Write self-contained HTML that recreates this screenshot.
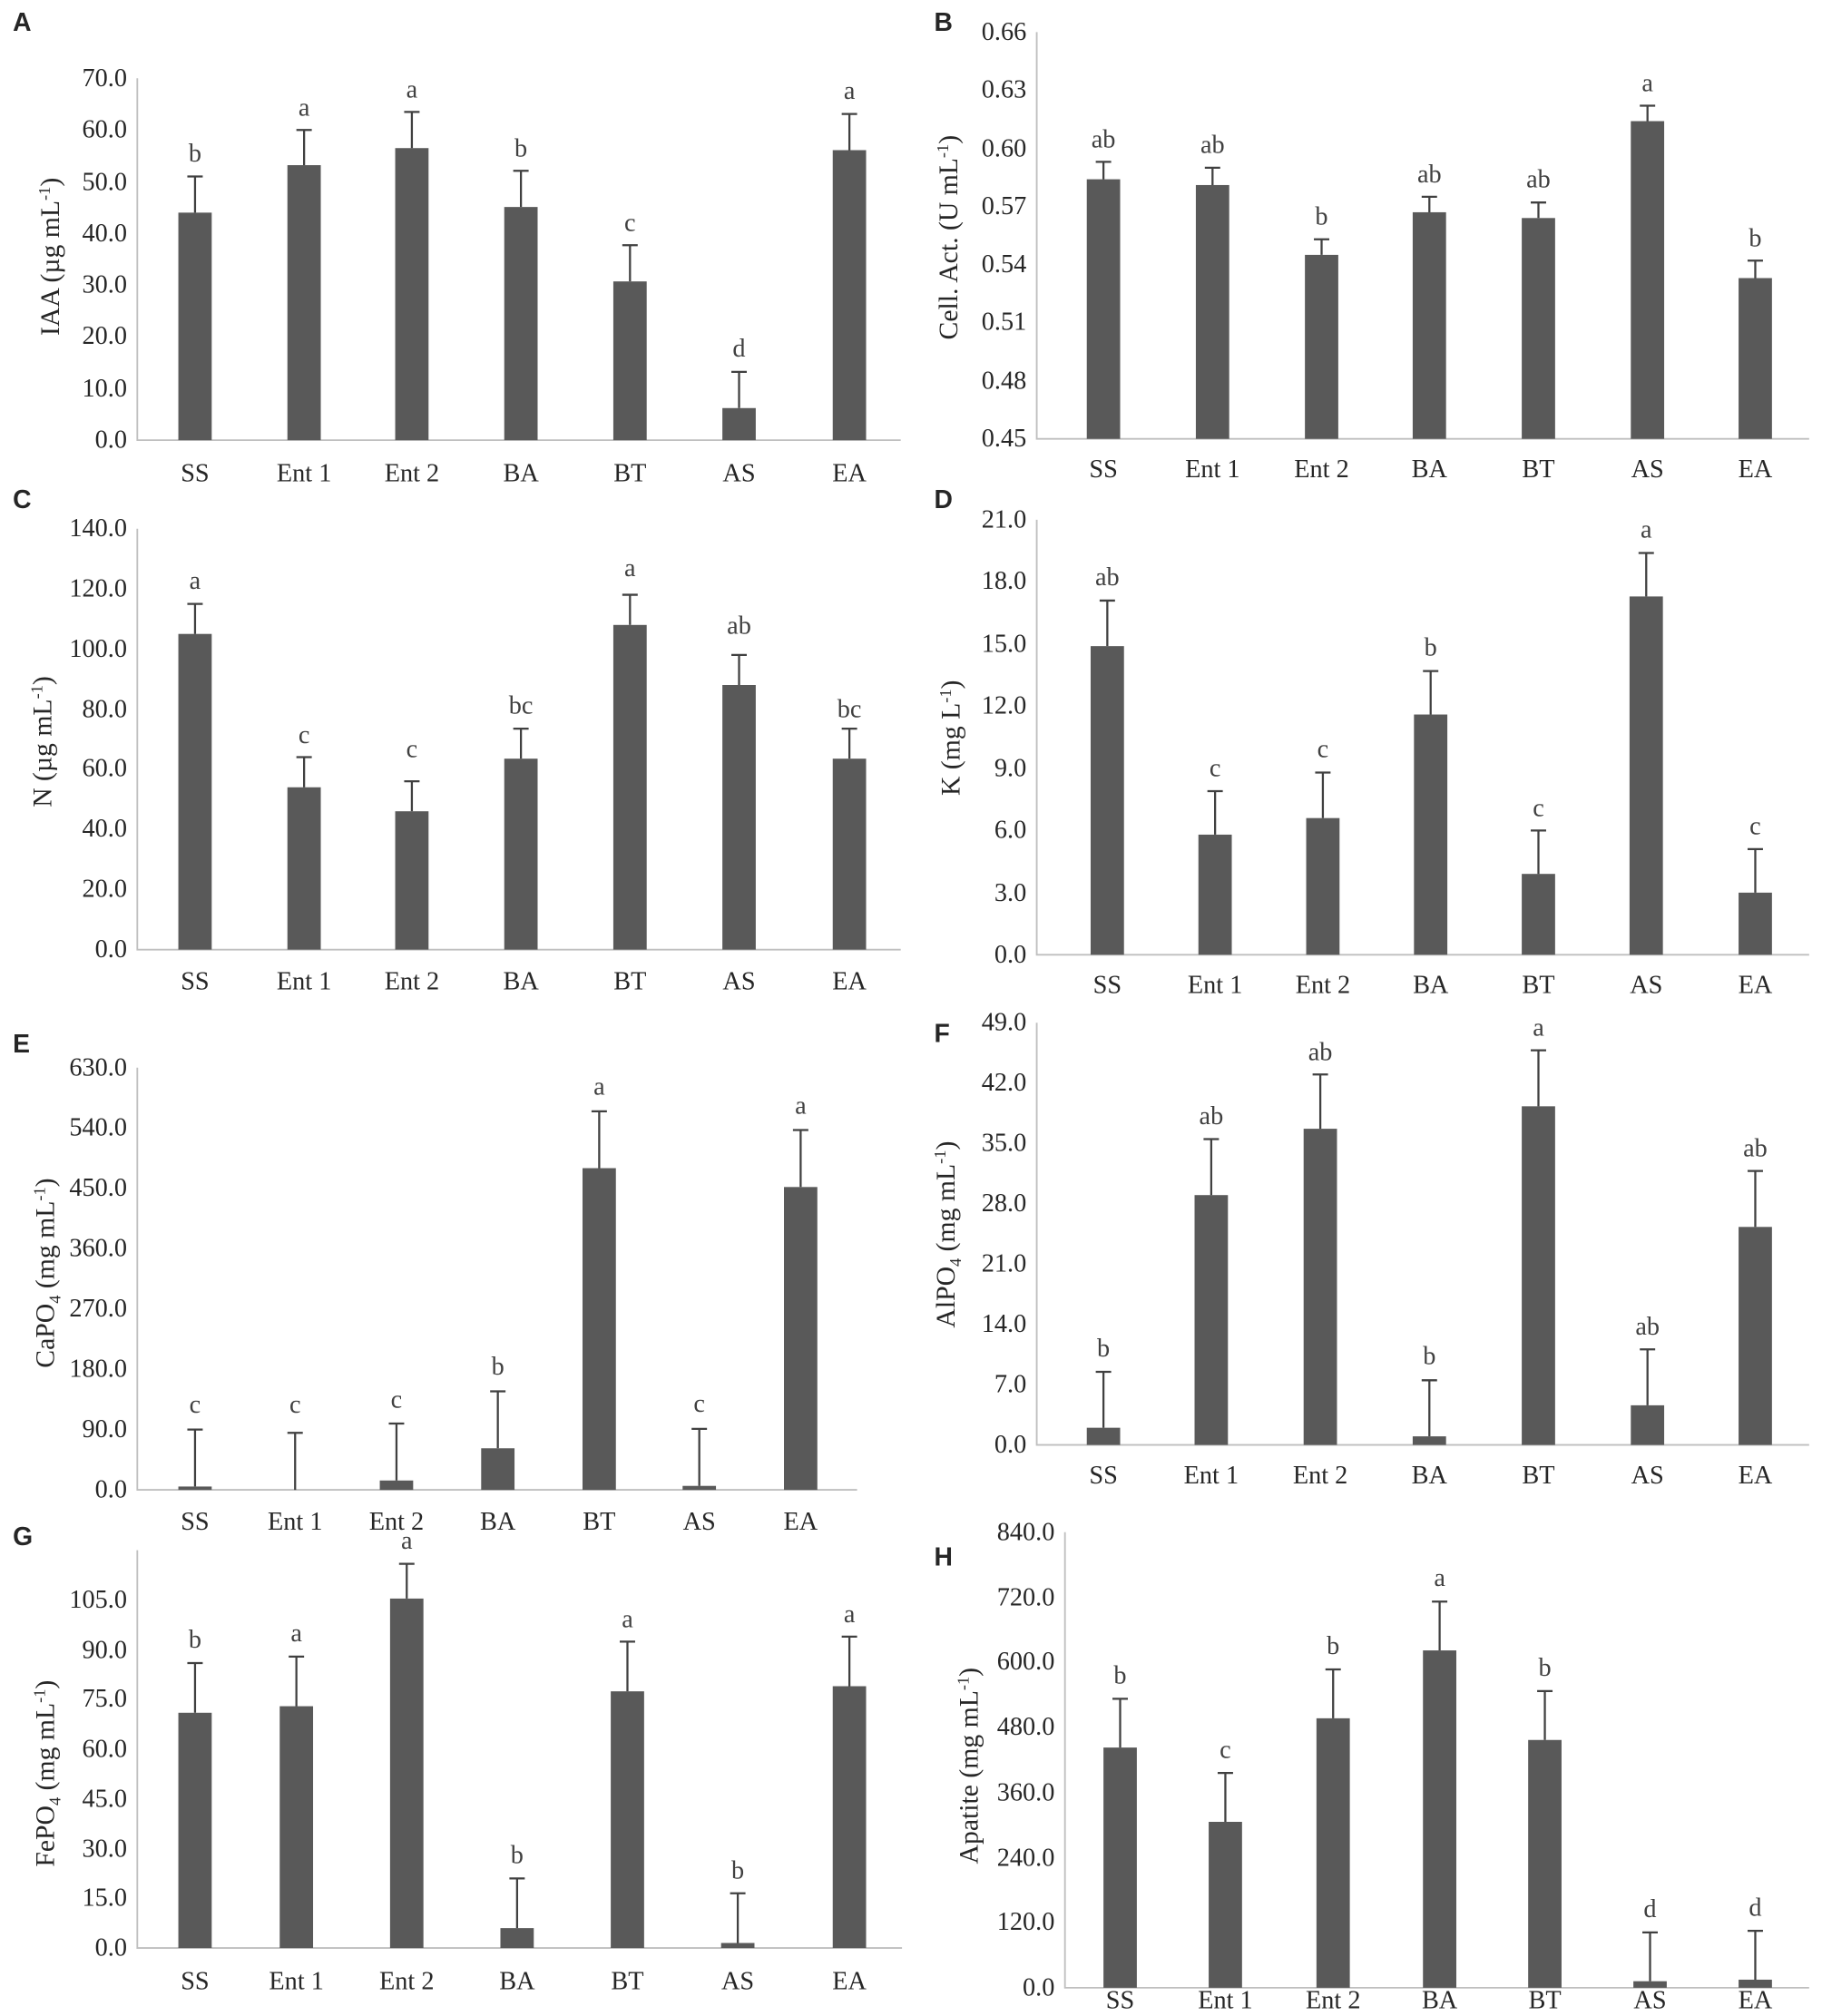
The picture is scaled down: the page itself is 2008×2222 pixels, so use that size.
<!DOCTYPE html>
<html><head><meta charset="utf-8"><style>
html,body{margin:0;padding:0;background:#fff}
svg{display:block}
text{font-family:"Liberation Serif",serif;fill:#262626}
.t{font-size:20px;text-anchor:end}
.c{font-size:20px;text-anchor:middle}
.l{font-size:20px;text-anchor:middle;fill:#404040}
.y{font-size:21px;text-anchor:middle}
.p{font-family:"Liberation Sans",sans-serif;font-weight:bold;font-size:20px}
.ax{stroke:#bfbfbf;stroke-width:1.3;fill:none}
.b{fill:#595959}
.e{stroke:#404040;stroke-width:1.6;fill:none}
</style></head><body>
<svg width="2008" height="2222" viewBox="0 0 1420 1571" preserveAspectRatio="none" xmlns="http://www.w3.org/2000/svg">
<rect width="1420" height="1571" fill="#fff"/>

<!-- A -->
<text class="p" x="10" y="24">A</text>
<path class="ax" d="M107 61V343H702"/>
<g>
<text class="t" x="99" y="349">0.0</text><text class="t" x="99" y="309">10.0</text><text class="t" x="99" y="268">20.0</text><text class="t" x="99" y="228">30.0</text><text class="t" x="99" y="188">40.0</text><text class="t" x="99" y="148">50.0</text><text class="t" x="99" y="107">60.0</text><text class="t" x="99" y="67">70.0</text>
</g>
<text class="y" transform="translate(46,200) rotate(-90)">IAA (µg mL<tspan dy="-7" font-size="13">-1</tspan><tspan dy="7">)</tspan></text>
<rect class="b" x="139" y="165.7" width="26" height="177.3"/><rect class="b" x="224" y="128.7" width="26" height="214.3"/><rect class="b" x="308" y="115.4" width="26" height="227.6"/><rect class="b" x="393" y="161.3" width="26" height="181.7"/><rect class="b" x="478" y="219.3" width="26" height="123.7"/><rect class="b" x="563" y="318" width="26" height="25"/><rect class="b" x="649" y="117" width="26" height="226"/>
<path class="e" d="M152 165.7V137.5M146 137.5H158M237 128.7V101.3M231 101.3H243M321 115.4V87.2M315 87.2H327M406 161.3V133.1M400 133.1H412M491 219.3V191.1M485 191.1H497M576 318V289.8M570 289.8H582M662 117V88.8M656 88.8H668"/>
<text class="l" x="152" y="126">b</text><text class="l" x="237" y="90">a</text><text class="l" x="321" y="76">a</text><text class="l" x="406" y="122">b</text><text class="l" x="491" y="180">c</text><text class="l" x="576" y="278">d</text><text class="l" x="662" y="77">a</text>
<text class="c" x="152" y="375">SS</text><text class="c" x="237" y="375">Ent 1</text><text class="c" x="321" y="375">Ent 2</text><text class="c" x="406" y="375">BA</text><text class="c" x="491" y="375">BT</text><text class="c" x="576" y="375">AS</text><text class="c" x="662" y="375">EA</text>

<!-- B -->
<text class="p" x="728" y="24">B</text>
<path class="ax" d="M808 25V342H1410"/>
<text class="t" x="800" y="348">0.45</text><text class="t" x="800" y="303">0.48</text><text class="t" x="800" y="257">0.51</text><text class="t" x="800" y="212">0.54</text><text class="t" x="800" y="167">0.57</text><text class="t" x="800" y="122">0.60</text><text class="t" x="800" y="76">0.63</text><text class="t" x="800" y="31">0.66</text>
<text class="y" transform="translate(746,185) rotate(-90)">Cell. Act. (U mL<tspan dy="-7" font-size="13">-1</tspan><tspan dy="7">)</tspan></text>
<rect class="b" x="847" y="139.7" width="26" height="202.3"/><rect class="b" x="932" y="144.2" width="26" height="197.8"/><rect class="b" x="1017" y="198.6" width="26" height="143.4"/><rect class="b" x="1101" y="165.4" width="26" height="176.6"/><rect class="b" x="1186" y="169.9" width="26" height="172.1"/><rect class="b" x="1271" y="94.4" width="26" height="247.6"/><rect class="b" x="1355" y="216.7" width="26" height="125.3"/>
<path class="e" d="M860 139.7V126.1M854 126.1H866M945 144.2V130.7M939 130.7H951M1030 198.6V186.5M1024 186.5H1036M1114 165.4V153.3M1108 153.3H1120M1199 169.9V157.8M1193 157.8H1205M1284 94.4V82.4M1278 82.4H1290M1368 216.7V203.1M1362 203.1H1374"/>
<text class="l" x="860" y="115">ab</text><text class="l" x="945" y="119">ab</text><text class="l" x="1030" y="175">b</text><text class="l" x="1114" y="142">ab</text><text class="l" x="1199" y="146">ab</text><text class="l" x="1284" y="71">a</text><text class="l" x="1368" y="192">b</text>
<text class="c" x="860" y="372">SS</text><text class="c" x="945" y="372">Ent 1</text><text class="c" x="1030" y="372">Ent 2</text><text class="c" x="1114" y="372">BA</text><text class="c" x="1199" y="372">BT</text><text class="c" x="1284" y="372">AS</text><text class="c" x="1368" y="372">EA</text>

<!-- C -->
<text class="p" x="10" y="396">C</text>
<path class="ax" d="M107 412V740H702"/>
<text class="t" x="99" y="746">0.0</text><text class="t" x="99" y="699">20.0</text><text class="t" x="99" y="652">40.0</text><text class="t" x="99" y="605">60.0</text><text class="t" x="99" y="559">80.0</text><text class="t" x="99" y="512">100.0</text><text class="t" x="99" y="465">120.0</text><text class="t" x="99" y="418">140.0</text>
<text class="y" transform="translate(40,578) rotate(-90)">N (µg mL<tspan dy="-7" font-size="13">-1</tspan><tspan dy="7">)</tspan></text>
<rect class="b" x="139" y="494" width="26" height="246"/><rect class="b" x="224" y="613.5" width="26" height="126.5"/><rect class="b" x="308" y="632.2" width="26" height="107.8"/><rect class="b" x="393" y="591.2" width="26" height="148.8"/><rect class="b" x="478" y="487" width="26" height="253"/><rect class="b" x="563" y="533.8" width="26" height="206.2"/><rect class="b" x="649" y="591.2" width="26" height="148.8"/>
<path class="e" d="M152 494V470.6M146 470.6H158M237 613.5V590M231 590H243M321 632.2V608.8M315 608.8H327M406 591.2V567.8M400 567.8H412M491 487V463.5M485 463.5H497M576 533.8V510.4M570 510.4H582M662 591.2V567.8M656 567.8H668"/>
<text class="l" x="152" y="459">a</text><text class="l" x="237" y="579">c</text><text class="l" x="321" y="590">c</text><text class="l" x="406" y="556">bc</text><text class="l" x="491" y="449">a</text><text class="l" x="576" y="494">ab</text><text class="l" x="662" y="559">bc</text>
<text class="c" x="152" y="771">SS</text><text class="c" x="237" y="771">Ent 1</text><text class="c" x="321" y="771">Ent 2</text><text class="c" x="406" y="771">BA</text><text class="c" x="491" y="771">BT</text><text class="c" x="576" y="771">AS</text><text class="c" x="662" y="771">EA</text>

<!-- D -->
<text class="p" x="728" y="396">D</text>
<path class="ax" d="M808 405V744H1410"/>
<text class="t" x="800" y="750">0.0</text><text class="t" x="800" y="702">3.0</text><text class="t" x="800" y="653">6.0</text><text class="t" x="800" y="605">9.0</text><text class="t" x="800" y="556">12.0</text><text class="t" x="800" y="508">15.0</text><text class="t" x="800" y="459">18.0</text><text class="t" x="800" y="411">21.0</text>
<text class="y" transform="translate(748,575) rotate(-90)">K (mg L<tspan dy="-7" font-size="13">-1</tspan><tspan dy="7">)</tspan></text>
<rect class="b" x="850" y="503.5" width="26" height="240.5"/><rect class="b" x="934" y="650.4" width="26" height="93.6"/><rect class="b" x="1018" y="637.5" width="26" height="106.5"/><rect class="b" x="1102" y="556.8" width="26" height="187.2"/><rect class="b" x="1186" y="681" width="26" height="63"/><rect class="b" x="1270" y="464.8" width="26" height="279.2"/><rect class="b" x="1355" y="695.6" width="26" height="48.4"/>
<path class="e" d="M863 503.5V468M857 468H869M947 650.4V616.5M941 616.5H953M1031 637.5V602M1025 602H1037M1115 556.8V522.9M1109 522.9H1121M1199 681V647.2M1193 647.2H1205M1283 464.8V430.9M1277 430.9H1289M1368 695.6V661.7M1362 661.7H1374"/>
<text class="l" x="863" y="456">ab</text><text class="l" x="947" y="605">c</text><text class="l" x="1031" y="590">c</text><text class="l" x="1115" y="511">b</text><text class="l" x="1199" y="636">c</text><text class="l" x="1283" y="419">a</text><text class="l" x="1368" y="650">c</text>
<text class="c" x="863" y="774">SS</text><text class="c" x="947" y="774">Ent 1</text><text class="c" x="1031" y="774">Ent 2</text><text class="c" x="1115" y="774">BA</text><text class="c" x="1199" y="774">BT</text><text class="c" x="1283" y="774">AS</text><text class="c" x="1368" y="774">EA</text>

<!-- E -->
<text class="p" x="10" y="820">E</text>
<path class="ax" d="M107 832V1161H668"/>
<text class="t" x="99" y="1167">0.0</text><text class="t" x="99" y="1120">90.0</text><text class="t" x="99" y="1073">180.0</text><text class="t" x="99" y="1026">270.0</text><text class="t" x="99" y="979">360.0</text><text class="t" x="99" y="932">450.0</text><text class="t" x="99" y="885">540.0</text><text class="t" x="99" y="838">630.0</text>
<text class="y" transform="translate(42,992) rotate(-90)">CaPO<tspan dy="5" font-size="13">4</tspan><tspan dy="-5"> (mg mL</tspan><tspan dy="-7" font-size="13">-1</tspan><tspan dy="7">)</tspan></text>
<rect class="b" x="139" y="1158.4" width="26" height="2.6"/><rect class="b" x="296" y="1153.7" width="26" height="7.3"/><rect class="b" x="375" y="1128.6" width="26" height="32.4"/><rect class="b" x="454" y="910.3" width="26" height="250.7"/><rect class="b" x="532" y="1157.9" width="26" height="3.1"/><rect class="b" x="611" y="925" width="26" height="236"/>
<path class="e" d="M152 1158.4V1114M146 1114H158M230 1161V1116.6M224 1116.6H236M309 1153.7V1109.3M303 1109.3H315M388 1128.6V1084.2M382 1084.2H394M467 910.3V866M461 866H473M545 1157.9V1113.5M539 1113.5H551M624 925V880.6M618 880.6H630"/>
<text class="l" x="152" y="1101">c</text><text class="l" x="230" y="1101">c</text><text class="l" x="309" y="1097">c</text><text class="l" x="388" y="1071">b</text><text class="l" x="467" y="853">a</text><text class="l" x="545" y="1100">c</text><text class="l" x="624" y="868">a</text>
<text class="c" x="152" y="1192">SS</text><text class="c" x="230" y="1192">Ent 1</text><text class="c" x="309" y="1192">Ent 2</text><text class="c" x="388" y="1192">BA</text><text class="c" x="467" y="1192">BT</text><text class="c" x="545" y="1192">AS</text><text class="c" x="624" y="1192">EA</text>

<!-- F -->
<text class="p" x="728" y="812">F</text>
<path class="ax" d="M808 797V1126H1410"/>
<text class="t" x="800" y="1132">0.0</text><text class="t" x="800" y="1085">7.0</text><text class="t" x="800" y="1038">14.0</text><text class="t" x="800" y="991">21.0</text><text class="t" x="800" y="944">28.0</text><text class="t" x="800" y="897">35.0</text><text class="t" x="800" y="850">42.0</text><text class="t" x="800" y="803">49.0</text>
<text class="y" transform="translate(744,962) rotate(-90)">AlPO<tspan dy="5" font-size="13">4</tspan><tspan dy="-5"> (mg mL</tspan><tspan dy="-7" font-size="13">-1</tspan><tspan dy="7">)</tspan></text>
<rect class="b" x="847" y="1112.6" width="26" height="13.4"/><rect class="b" x="931" y="931.3" width="26" height="194.7"/><rect class="b" x="1016" y="879.6" width="26" height="246.4"/><rect class="b" x="1101" y="1119.3" width="26" height="6.7"/><rect class="b" x="1186" y="862.1" width="26" height="263.9"/><rect class="b" x="1271" y="1095.1" width="26" height="30.9"/><rect class="b" x="1355" y="956.1" width="26" height="169.9"/>
<path class="e" d="M860 1112.6V1069M854 1069H866M944 931.3V887.7M938 887.7H950M1029 879.6V837.3M1023 837.3H1035M1114 1119.3V1075.6M1108 1075.6H1120M1199 862.1V818.5M1193 818.5H1205M1284 1095.1V1051.5M1278 1051.5H1290M1368 956.1V912.5M1362 912.5H1374"/>
<text class="l" x="860" y="1057">b</text><text class="l" x="944" y="876">ab</text><text class="l" x="1029" y="826">ab</text><text class="l" x="1114" y="1063">b</text><text class="l" x="1199" y="807">a</text><text class="l" x="1284" y="1040">ab</text><text class="l" x="1368" y="901">ab</text>
<text class="c" x="860" y="1156">SS</text><text class="c" x="944" y="1156">Ent 1</text><text class="c" x="1029" y="1156">Ent 2</text><text class="c" x="1114" y="1156">BA</text><text class="c" x="1199" y="1156">BT</text><text class="c" x="1284" y="1156">AS</text><text class="c" x="1368" y="1156">EA</text>

<!-- G -->
<text class="p" x="10" y="1204">G</text>
<path class="ax" d="M107 1208V1518H703"/>
<text class="t" x="99" y="1524">0.0</text><text class="t" x="99" y="1485">15.0</text><text class="t" x="99" y="1447">30.0</text><text class="t" x="99" y="1408">45.0</text><text class="t" x="99" y="1369">60.0</text><text class="t" x="99" y="1330">75.0</text><text class="t" x="99" y="1292">90.0</text><text class="t" x="99" y="1253">105.0</text>
<text class="y" transform="translate(42,1382) rotate(-90)">FePO<tspan dy="5" font-size="13">4</tspan><tspan dy="-5"> (mg mL</tspan><tspan dy="-7" font-size="13">-1</tspan><tspan dy="7">)</tspan></text>
<rect class="b" x="139" y="1334.7" width="26" height="183.3"/><rect class="b" x="218" y="1329.6" width="26" height="188.4"/><rect class="b" x="304" y="1245.7" width="26" height="272.3"/><rect class="b" x="390" y="1502.5" width="26" height="15.5"/><rect class="b" x="476" y="1318" width="26" height="200"/><rect class="b" x="562" y="1514.1" width="26" height="3.9"/><rect class="b" x="649" y="1314" width="26" height="204"/>
<path class="e" d="M152 1334.7V1296M146 1296H158M231 1329.6V1290.9M225 1290.9H237M317 1245.7V1218.6M311 1218.6H323M403 1502.5V1463.8M397 1463.8H409M489 1318V1279.3M483 1279.3H495M575 1514.1V1475.4M569 1475.4H581M662 1314V1275.4M656 1275.4H668"/>
<text class="l" x="152" y="1284">b</text><text class="l" x="231" y="1279">a</text><text class="l" x="317" y="1207">a</text><text class="l" x="403" y="1452">b</text><text class="l" x="489" y="1268">a</text><text class="l" x="575" y="1464">b</text><text class="l" x="662" y="1264">a</text>
<text class="c" x="152" y="1550">SS</text><text class="c" x="231" y="1550">Ent 1</text><text class="c" x="317" y="1550">Ent 2</text><text class="c" x="403" y="1550">BA</text><text class="c" x="489" y="1550">BT</text><text class="c" x="575" y="1550">AS</text><text class="c" x="662" y="1550">EA</text>

<!-- H -->
<text class="p" x="728" y="1220">H</text>
<path class="ax" d="M830 1194V1549H1410"/>
<text class="t" x="822" y="1555">0.0</text><text class="t" x="822" y="1504">120.0</text><text class="t" x="822" y="1454">240.0</text><text class="t" x="822" y="1403">360.0</text><text class="t" x="822" y="1352">480.0</text><text class="t" x="822" y="1301">600.0</text><text class="t" x="822" y="1251">720.0</text><text class="t" x="822" y="1200">840.0</text>
<text class="y" transform="translate(762,1376) rotate(-90)">Apatite (mg mL<tspan dy="-7" font-size="13">-1</tspan><tspan dy="7">)</tspan></text>
<rect class="b" x="860" y="1361.8" width="26" height="187.2"/><rect class="b" x="942" y="1419.7" width="26" height="129.3"/><rect class="b" x="1026" y="1339" width="26" height="210"/><rect class="b" x="1109" y="1286.1" width="26" height="262.9"/><rect class="b" x="1191" y="1355.9" width="26" height="193.1"/><rect class="b" x="1273" y="1543.9" width="26" height="5.1"/><rect class="b" x="1355" y="1542.7" width="26" height="6.3"/>
<path class="e" d="M873 1361.8V1323.8M867 1323.8H879M955 1419.7V1381.6M949 1381.6H961M1039 1339V1300.9M1033 1300.9H1045M1122 1286.1V1248.1M1116 1248.1H1128M1204 1355.9V1317.8M1198 1317.8H1210M1286 1543.9V1505.9M1280 1505.9H1292M1368 1542.7V1504.6M1362 1504.6H1374"/>
<text class="l" x="873" y="1312">b</text><text class="l" x="955" y="1370">c</text><text class="l" x="1039" y="1289">b</text><text class="l" x="1122" y="1236">a</text><text class="l" x="1204" y="1306">b</text><text class="l" x="1286" y="1494">d</text><text class="l" x="1368" y="1493">d</text>
<text class="c" x="873" y="1565">SS</text><text class="c" x="955" y="1565">Ent 1</text><text class="c" x="1039" y="1565">Ent 2</text><text class="c" x="1122" y="1565">BA</text><text class="c" x="1204" y="1565">BT</text><text class="c" x="1286" y="1565">AS</text><text class="c" x="1368" y="1565">EA</text>
</svg>
</body></html>
